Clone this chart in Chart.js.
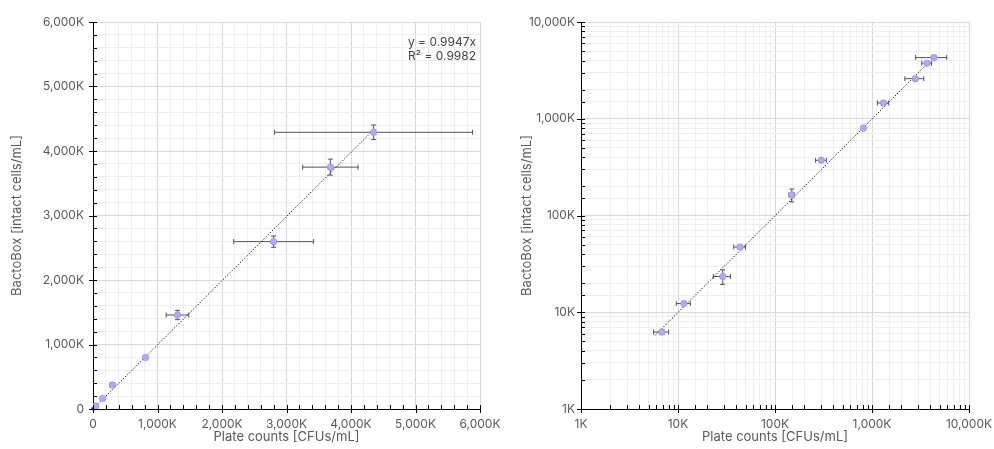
<!DOCTYPE html>
<html>
<head>
<meta charset="utf-8">
<script src="https://cdn.jsdelivr.net/npm/chart.js@4/dist/chart.umd.min.js"></script>
<style>
  html, body { margin: 0; padding: 0; background: #fff; }
  #wrap { position: relative; width: 994px; height: 449px; overflow: hidden; background: #fff; }
  canvas { position: absolute; top: 0; }
  #c1 { left: 0; }
  #c2 { left: 497px; }
</style>
</head>
<body>
<div id="wrap">
  <canvas id="c1" width="520" height="449"></canvas>
  <canvas id="c2" width="497" height="449"></canvas>
</div>
<script>
// ---- Data (values in thousands, K) ----
const plateCounts = [6.8, 11.5, 28.9, 43.6, 149, 300, 814, 1310, 2800, 3680, 4350];
const plateErr    = [1.2, 1.9, 5.8, 6, 10, 38, 20, 175, 620, 430, 1535];
const bactoBox    = [6.25, 12.3, 23.4, 47.2, 163, 372, 800, 1457, 2595, 3750, 4290];
const bactoErr    = [0.35, 0.5, 4, 2, 25, 15, 20, 72, 88, 124, 113];
const slope = 0.9947;
const rSquared = 0.9982;
const fitRange = [5.8, 4350];
const linearMajorTicks = [0, 1000, 2000, 3000, 4000, 5000, 6000];
const logMajorTicks = [1, 10, 100, 1000, 10000];
const xTitle = 'Plate counts [CFUs/mL]';
const yTitle = 'BactoBox [intact cells/mL]';

const FONT = 'Inter, "Noto Sans", sans-serif';
const TEXT = '#5a5a5a';
const MAJOR_GRID = '#d9d9d9';
const MINOR_GRID = '#eeeeee';

function fmt(v) { return v === 0 ? '0' : v.toLocaleString('en-US') + 'K'; }
function isMajorLin(v) { return linearMajorTicks.includes(v); }
function isMajorLog(v) { return logMajorTicks.some(t => Math.abs(t - v) < 1e-9 * t); }

const points = plateCounts.map((x, i) => ({ x, y: bactoBox[i] }));
const fitLine = fitRange.map(x => ({ x, y: slope * x }));

const errorBars = {
  id: 'errorBars',
  beforeDatasetsDraw(chart) {
    const { ctx } = chart;
    const xs = chart.scales.x, ys = chart.scales.y;
    ctx.save();
    ctx.strokeStyle = '#555';
    ctx.lineWidth = 1;
    const cap = 2.5;
    plateCounts.forEach((xv, i) => {
      const yv = bactoBox[i];
      const px = xs.getPixelForValue(xv), py = ys.getPixelForValue(yv);
      const x1 = xs.getPixelForValue(xv - plateErr[i]), x2 = xs.getPixelForValue(xv + plateErr[i]);
      const y1 = ys.getPixelForValue(yv - bactoErr[i]), y2 = ys.getPixelForValue(yv + bactoErr[i]);
      ctx.beginPath();
      ctx.moveTo(x1, py); ctx.lineTo(x2, py);
      ctx.moveTo(x1, py - cap); ctx.lineTo(x1, py + cap);
      ctx.moveTo(x2, py - cap); ctx.lineTo(x2, py + cap);
      ctx.moveTo(px, y1); ctx.lineTo(px, y2);
      ctx.moveTo(px - cap, y1); ctx.lineTo(px + cap, y1);
      ctx.moveTo(px - cap, y2); ctx.lineTo(px + cap, y2);
      ctx.stroke();
    });
    ctx.restore();
  }
};

function tickMarks(isMajor) {
  return {
    id: 'tickMarks',
    afterDraw(chart) {
      const { ctx, chartArea } = chart;
      const xs = chart.scales.x, ys = chart.scales.y;
      ctx.save();
      ctx.strokeStyle = '#000';
      ctx.lineWidth = 1;
      ctx.beginPath();
      xs.ticks.forEach(t => {
        const p = Math.round(xs.getPixelForValue(t.value)) + 0.5;
        const b = chartArea.bottom;
        if (isMajor(t.value)) { ctx.moveTo(p, b - 4); ctx.lineTo(p, b + 4); }
        else { ctx.moveTo(p, b); ctx.lineTo(p, b - 4); }
      });
      ys.ticks.forEach(t => {
        const p = Math.round(ys.getPixelForValue(t.value)) + 0.5;
        const l = chartArea.left;
        if (isMajor(t.value)) { ctx.moveTo(l - 4, p); ctx.lineTo(l + 4, p); }
        else { ctx.moveTo(l, p); ctx.lineTo(l + 4, p); }
      });
      ctx.stroke();
      ctx.restore();
    }
  };
}

const annotation = {
  id: 'fitText',
  afterDraw(chart) {
    const { ctx, chartArea } = chart;
    ctx.save();
    ctx.fillStyle = '#444';
    ctx.font = '12px ' + FONT;
    ctx.textAlign = 'right';
    ctx.textBaseline = 'middle';
    ctx.fillText('y = ' + slope + 'x', chartArea.right - 4, chartArea.top + 20);
    ctx.fillText('R² = ' + rSquared, chartArea.right - 4, chartArea.top + 34);
    ctx.restore();
  }
};

function datasets() {
  return [
    {
      type: 'line', data: fitLine, borderColor: '#000', borderWidth: 1,
      borderDash: [1.2, 1.8], pointRadius: 0, fill: false, order: 2
    },
    {
      type: 'scatter', data: points, pointRadius: 3.2,
      backgroundColor: '#b9a6f9', borderColor: '#a38bf3', borderWidth: 0.8, order: 1
    }
  ];
}

function axis(opts) {
  const { type, min, max, stepSize, isMajor, horizontal, width, height, labelPad, titlePad } = opts;
  const ticks = {
    color: TEXT, font: { family: FONT, size: 12 }, padding: labelPad,
    autoSkip: false, maxRotation: 0, minRotation: 0,
    callback: (v) => isMajor(v) ? fmt(v) : ''
  };
  if (stepSize) ticks.stepSize = stepSize;
  return {
    type, min, max,
    position: horizontal ? 'bottom' : 'left',
    border: { color: '#000', width: 1 },
    grid: {
      drawTicks: false,
      color: (c) => (c.tick && isMajor(c.tick.value)) ? MAJOR_GRID : MINOR_GRID,
      lineWidth: 1
    },
    ticks,
    title: {
      display: true, text: horizontal ? xTitle : yTitle, color: TEXT,
      font: { family: FONT, size: 13 }, padding: titlePad
    },
    afterFit(s) {
      if (horizontal) { s.height = height; s.paddingLeft = 0; s.paddingRight = 0; }
      else { s.width = width; s.paddingTop = 0; s.paddingBottom = 0; }
    }
  };
}

Chart.defaults.font.family = FONT;

new Chart(document.getElementById('c1'), {
  type: 'scatter',
  data: { datasets: datasets() },
  plugins: [errorBars, tickMarks(isMajorLin), annotation],
  options: {
    responsive: false, animation: false,
    layout: { padding: { left: 0, right: 40, top: 22, bottom: 0 } },
    plugins: { legend: { display: false }, tooltip: { enabled: false } },
    scales: {
      x: axis({ type: 'linear', min: 0, max: 6000, stepSize: 200, isMajor: isMajorLin, horizontal: true, height: 40, labelPad: 8, titlePad: { top: 2, bottom: 4 } }),
      y: axis({ type: 'linear', min: 0, max: 6000, stepSize: 200, isMajor: isMajorLin, horizontal: false, width: 93, labelPad: 9, titlePad: { top: 9, bottom: 4 } })
    }
  }
});

new Chart(document.getElementById('c2'), {
  type: 'scatter',
  data: { datasets: datasets() },
  plugins: [errorBars, tickMarks(isMajorLog)],
  options: {
    responsive: false, animation: false,
    layout: { padding: { left: 0, right: 25, top: 22, bottom: 0 } },
    plugins: { legend: { display: false }, tooltip: { enabled: false } },
    scales: {
      x: axis({ type: 'logarithmic', min: 1, max: 10000, isMajor: isMajorLog, horizontal: true, height: 40, labelPad: 8, titlePad: { top: 2, bottom: 4 } }),
      y: axis({ type: 'logarithmic', min: 1, max: 10000, isMajor: isMajorLog, horizontal: false, width: 84, labelPad: 6, titlePad: { top: 22, bottom: 4 } })
    }
  }
});
</script>
</body>
</html>
